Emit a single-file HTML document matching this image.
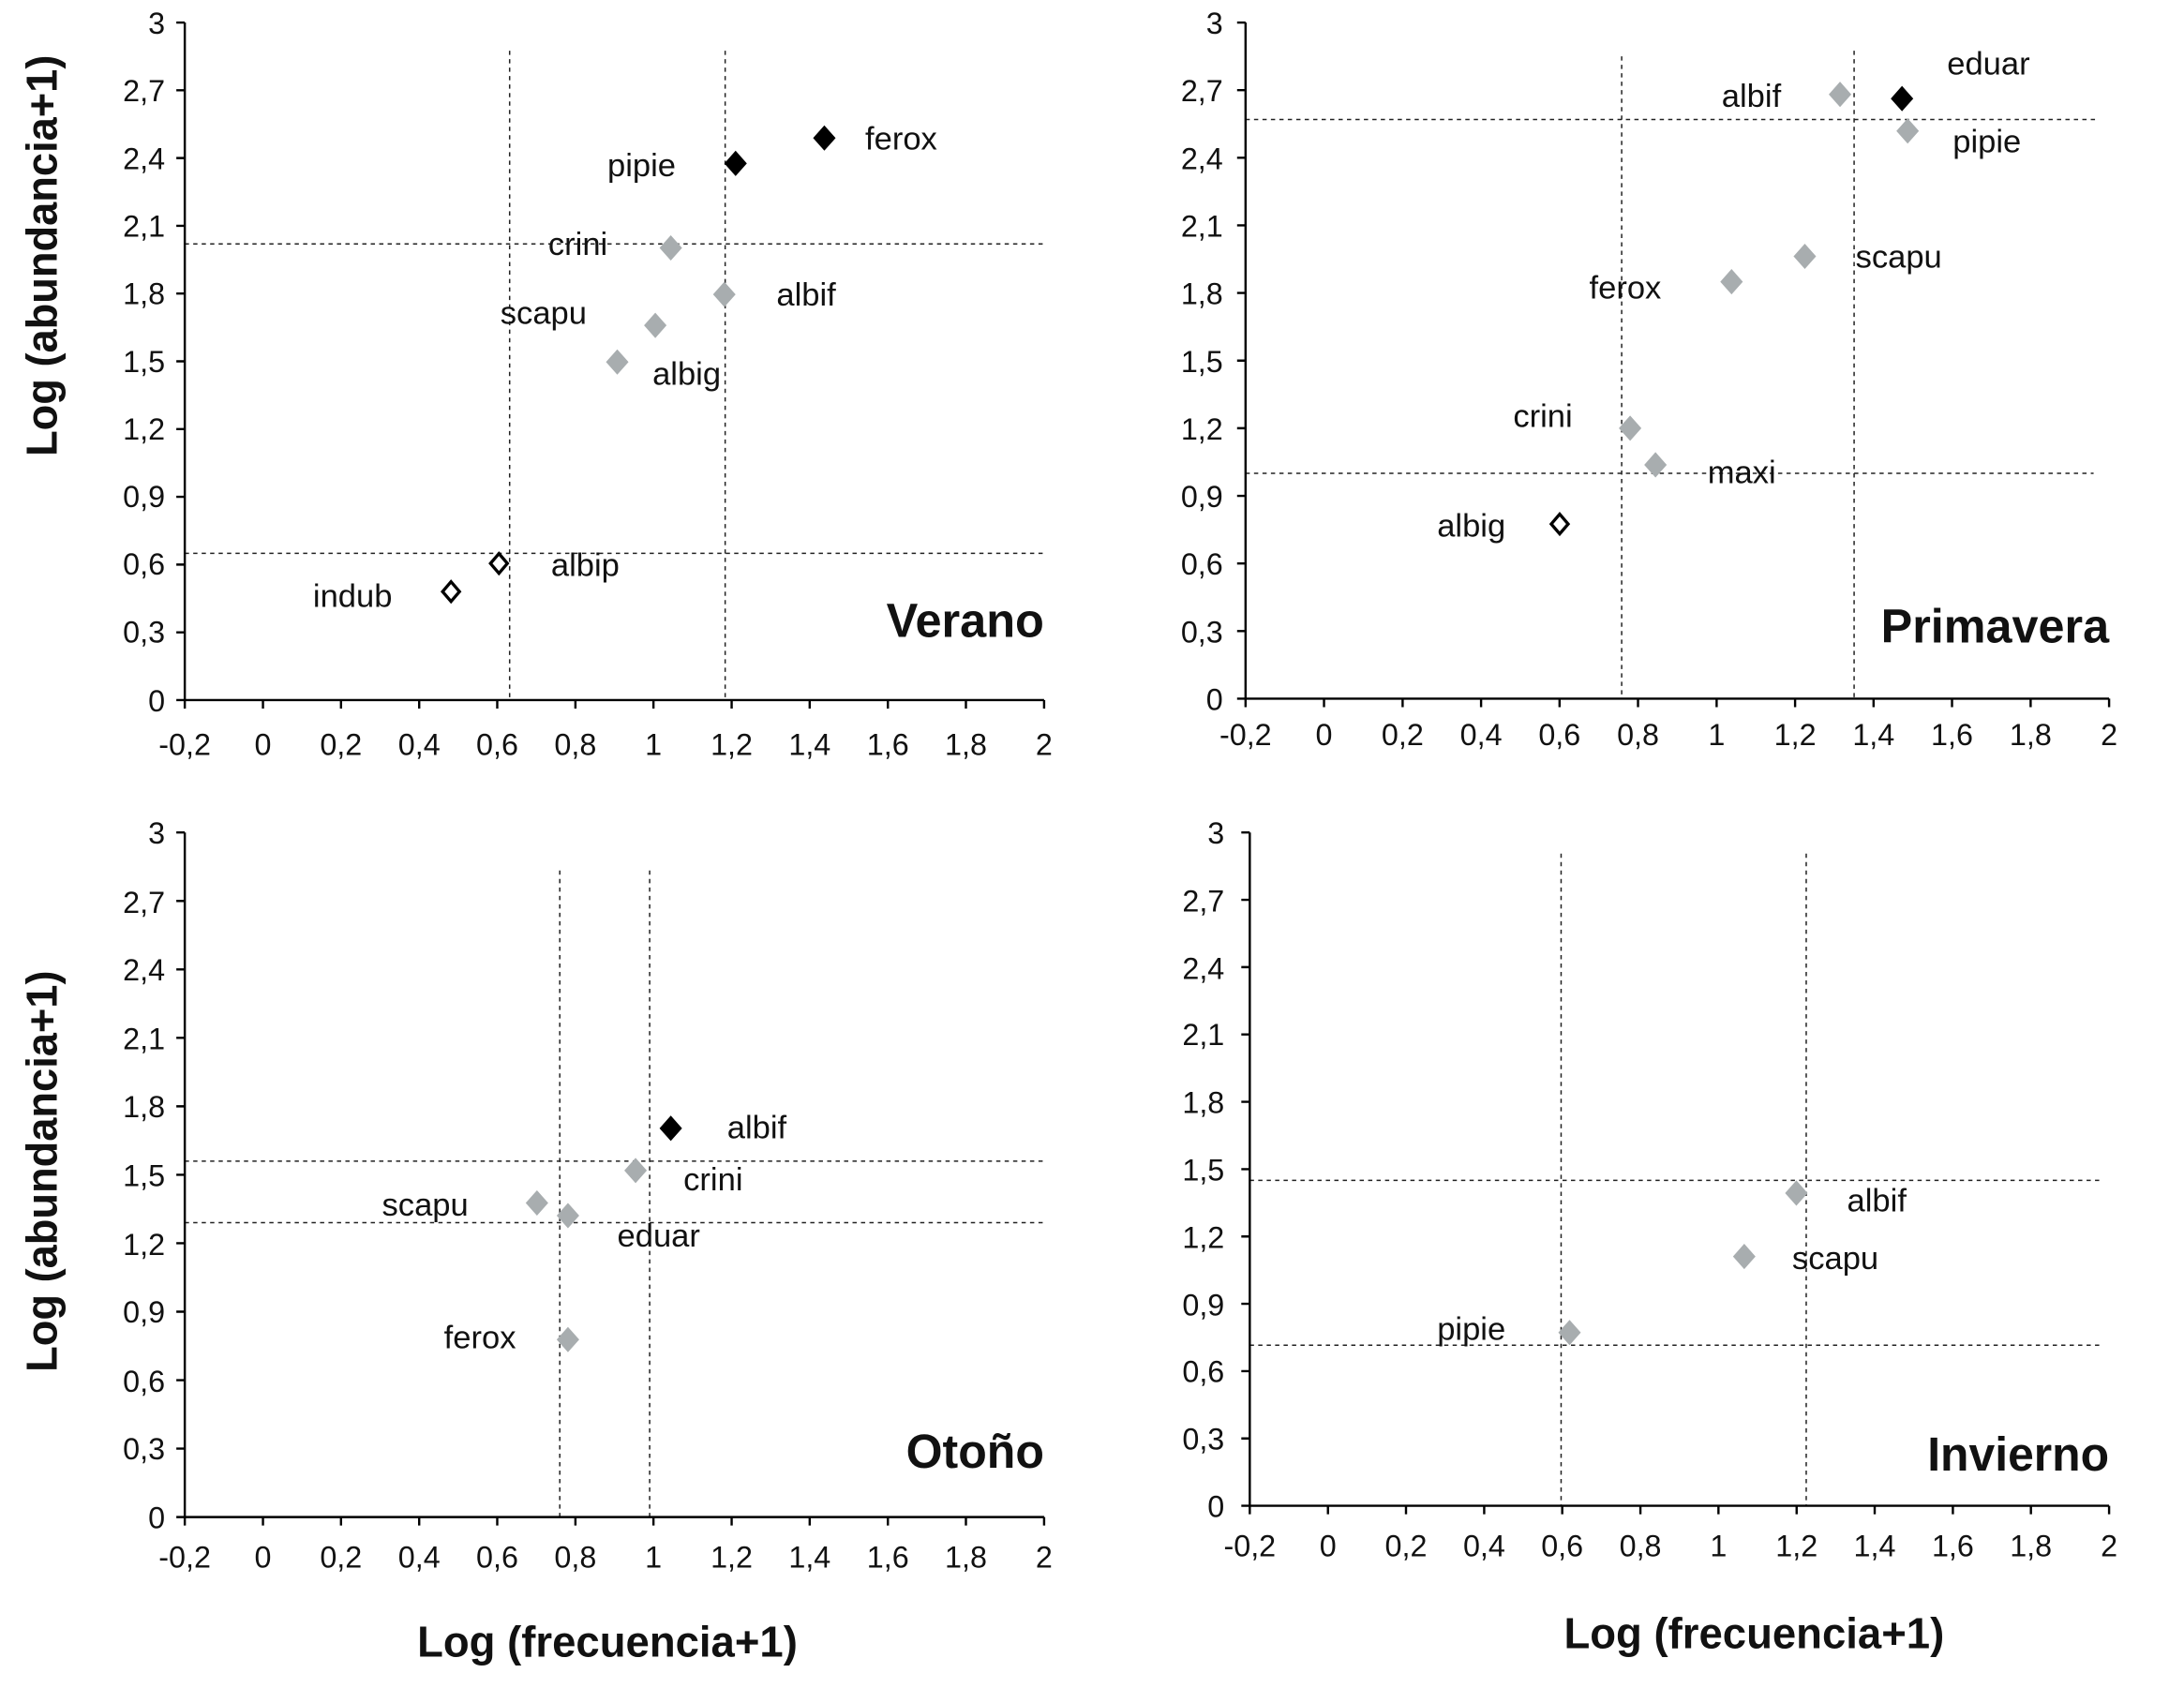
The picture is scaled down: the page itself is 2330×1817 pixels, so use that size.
<!DOCTYPE html>
<html><head><meta charset="utf-8"><style>
html,body{margin:0;padding:0;background:#fff;}
svg{display:block}
text{font-family:"Liberation Sans",sans-serif;fill:#111}
.t{font-size:21.5px}
.l{font-size:23px}
.b{font-weight:bold;font-size:34px}
.a{font-weight:bold;font-size:31px}
.ax{stroke:#000;stroke-width:1.6;fill:none}
.d{stroke:#222;stroke-width:1;stroke-dasharray:3,3;fill:none}
.g{fill:#a8adaf}
.k{fill:#000}
.o{fill:#fff;stroke:#000;stroke-width:2.2}
</style></head><body>
<svg width="2330" height="1817" viewBox="0 0 1550 1209" xmlns="http://www.w3.org/2000/svg">
<defs><path id="dm" d="M0,-9 L8,0 L0,9 L-8,0Z"/><path id="dmo" d="M0,-7 L6,0 L0,7 L-6,0Z"/></defs>

<!-- TL -->
<g>
<line class="d" x1="361.6" y1="36" x2="361.6" y2="497"/>
<line class="d" x1="514.6" y1="36" x2="514.6" y2="497"/>
<line class="d" x1="131" y1="173.2" x2="741" y2="173.2"/>
<line class="d" x1="131" y1="392.8" x2="741" y2="392.8"/>
<path class="ax" d="M131,16V497H741 M125,16H131 M125,64.1H131 M125,112.2H131 M125,160.3H131 M125,208.4H131 M125,256.5H131 M125,304.6H131 M125,352.7H131 M125,400.8H131 M125,448.9H131 M125,497H131 M131,497V503 M186.5,497V503 M241.9,497V503 M297.4,497V503 M352.8,497V503 M408.3,497V503 M463.7,497V503 M519.2,497V503 M574.6,497V503 M630.1,497V503 M685.5,497V503 M741,497V503"/>
<g class="t" text-anchor="end"><text x="117" y="24">3</text><text x="117" y="72">2,7</text><text x="117" y="120">2,4</text><text x="117" y="168">2,1</text><text x="117" y="216">1,8</text><text x="117" y="264">1,5</text><text x="117" y="312">1,2</text><text x="117" y="360">0,9</text><text x="117" y="408">0,6</text><text x="117" y="456">0,3</text><text x="117" y="505">0</text></g>
<g class="t" text-anchor="middle"><text x="131" y="536">-0,2</text><text x="186.5" y="536">0</text><text x="241.9" y="536">0,2</text><text x="297.4" y="536">0,4</text><text x="352.8" y="536">0,6</text><text x="408.3" y="536">0,8</text><text x="463.7" y="536">1</text><text x="519.2" y="536">1,2</text><text x="574.6" y="536">1,4</text><text x="630.1" y="536">1,6</text><text x="685.5" y="536">1,8</text><text x="741" y="536">2</text></g>
<use href="#dm" class="k" x="522" y="116"/><use href="#dm" class="k" x="585" y="98"/>
<use href="#dm" class="g" x="476" y="176"/><use href="#dm" class="g" x="514" y="209"/><use href="#dm" class="g" x="465" y="231"/><use href="#dm" class="g" x="438" y="257"/>
<use href="#dmo" class="o" x="354" y="400"/><use href="#dmo" class="o" x="320" y="420"/>
<g class="l"><text x="614" y="106">ferox</text><text x="431" y="125">pipie</text><text x="389" y="181">crini</text><text x="551" y="217">albif</text><text x="355" y="230">scapu</text><text x="463" y="273">albig</text><text x="391" y="409">albip</text><text x="222" y="431">indub</text></g>
<text class="b" x="629" y="452" textLength="112" lengthAdjust="spacingAndGlyphs">Verano</text>
<text class="a" transform="translate(40,182) rotate(-90)" x="-142" y="0" textLength="285" lengthAdjust="spacingAndGlyphs">Log (abundancia+1)</text>
</g>

<!-- TR -->
<g>
<line class="d" x1="1151" y1="40" x2="1151" y2="496"/>
<line class="d" x1="1316" y1="36" x2="1316" y2="496"/>
<line class="d" x1="884" y1="84.8" x2="1490" y2="84.8"/>
<line class="d" x1="884" y1="336" x2="1486" y2="336"/>
<path class="ax" d="M884,16V496H1497 M878,16H884 M878,64H884 M878,112H884 M878,160H884 M878,208H884 M878,256H884 M878,304H884 M878,352H884 M878,400H884 M878,448H884 M878,496H884 M884,496V502 M939.7,496V502 M995.5,496V502 M1051.2,496V502 M1106.9,496V502 M1162.6,496V502 M1218.4,496V502 M1274.1,496V502 M1329.8,496V502 M1385.5,496V502 M1441.3,496V502 M1497,496V502"/>
<g class="t" text-anchor="end"><text x="868" y="24">3</text><text x="868" y="72">2,7</text><text x="868" y="120">2,4</text><text x="868" y="168">2,1</text><text x="868" y="216">1,8</text><text x="868" y="264">1,5</text><text x="868" y="312">1,2</text><text x="868" y="360">0,9</text><text x="868" y="408">0,6</text><text x="868" y="456">0,3</text><text x="868" y="504">0</text></g>
<g class="t" text-anchor="middle"><text x="884" y="529">-0,2</text><text x="939.7" y="529">0</text><text x="995.5" y="529">0,2</text><text x="1051.2" y="529">0,4</text><text x="1106.9" y="529">0,6</text><text x="1162.6" y="529">0,8</text><text x="1218.4" y="529">1</text><text x="1274.1" y="529">1,2</text><text x="1329.8" y="529">1,4</text><text x="1385.5" y="529">1,6</text><text x="1441.3" y="529">1,8</text><text x="1497" y="529">2</text></g>
<use href="#dm" class="k" x="1350" y="70"/><use href="#dm" class="g" x="1306" y="67"/><use href="#dm" class="g" x="1354" y="93"/>
<use href="#dm" class="g" x="1281" y="182"/><use href="#dm" class="g" x="1229" y="200"/><use href="#dm" class="g" x="1157" y="304"/><use href="#dm" class="g" x="1175" y="330"/>
<use href="#dmo" class="o" x="1107" y="372"/>
<g class="l"><text x="1382" y="53">eduar</text><text x="1222" y="76">albif</text><text x="1386" y="108">pipie</text><text x="1317" y="190">scapu</text><text x="1128" y="212">ferox</text><text x="1074" y="303">crini</text><text x="1212" y="343">maxi</text><text x="1020" y="381">albig</text></g>
<text class="b" x="1335" y="456" textLength="162" lengthAdjust="spacingAndGlyphs">Primavera</text>
</g>

<!-- BL -->
<g>
<line class="d" x1="397.2" y1="618" x2="397.2" y2="1077"/>
<line class="d" x1="461" y1="618" x2="461" y2="1077"/>
<line class="d" x1="131" y1="824.3" x2="741" y2="824.3"/>
<line class="d" x1="131" y1="868" x2="741" y2="868"/>
<path class="ax" d="M131,591V1077H741 M125,591H131 M125,639.6H131 M125,688.2H131 M125,736.8H131 M125,785.4H131 M125,834H131 M125,882.6H131 M125,931.2H131 M125,979.8H131 M125,1028.4H131 M125,1077H131 M131,1077V1083 M186.5,1077V1083 M241.9,1077V1083 M297.4,1077V1083 M352.8,1077V1083 M408.3,1077V1083 M463.7,1077V1083 M519.2,1077V1083 M574.6,1077V1083 M630.1,1077V1083 M685.5,1077V1083 M741,1077V1083"/>
<g class="t" text-anchor="end"><text x="117" y="599">3</text><text x="117" y="648">2,7</text><text x="117" y="696">2,4</text><text x="117" y="745">2,1</text><text x="117" y="793">1,8</text><text x="117" y="842">1,5</text><text x="117" y="891">1,2</text><text x="117" y="939">0,9</text><text x="117" y="988">0,6</text><text x="117" y="1036">0,3</text><text x="117" y="1085">0</text></g>
<g class="t" text-anchor="middle"><text x="131" y="1113">-0,2</text><text x="186.5" y="1113">0</text><text x="241.9" y="1113">0,2</text><text x="297.4" y="1113">0,4</text><text x="352.8" y="1113">0,6</text><text x="408.3" y="1113">0,8</text><text x="463.7" y="1113">1</text><text x="519.2" y="1113">1,2</text><text x="574.6" y="1113">1,4</text><text x="630.1" y="1113">1,6</text><text x="685.5" y="1113">1,8</text><text x="741" y="1113">2</text></g>
<use href="#dm" class="k" x="476" y="801"/><use href="#dm" class="g" x="451" y="831"/><use href="#dm" class="g" x="381" y="854"/><use href="#dm" class="g" x="403" y="863"/><use href="#dm" class="g" x="403" y="951"/>
<g class="l"><text x="516" y="808">albif</text><text x="485" y="845">crini</text><text x="271" y="863">scapu</text><text x="438" y="885">eduar</text><text x="315" y="957">ferox</text></g>
<text class="b" x="643" y="1042" textLength="98" lengthAdjust="spacingAndGlyphs">Otoño</text>
<text class="a" transform="translate(40,832) rotate(-90)" x="-142" y="0" textLength="285" lengthAdjust="spacingAndGlyphs">Log (abundancia+1)</text>
<text class="a" x="296" y="1176" textLength="270" lengthAdjust="spacingAndGlyphs">Log (frecuencia+1)</text>
</g>

<!-- BR -->
<g>
<line class="d" x1="1108" y1="606" x2="1108" y2="1069"/>
<line class="d" x1="1282" y1="606" x2="1282" y2="1069"/>
<line class="d" x1="887" y1="838" x2="1490" y2="838"/>
<line class="d" x1="887" y1="955" x2="1490" y2="955"/>
<path class="ax" d="M887,591V1069H1497 M881,591H887 M881,638.8H887 M881,686.6H887 M881,734.4H887 M881,782.2H887 M881,830H887 M881,877.8H887 M881,925.6H887 M881,973.4H887 M881,1021.2H887 M881,1069H887 M887,1069V1075 M942.5,1069V1075 M997.9,1069V1075 M1053.4,1069V1075 M1108.8,1069V1075 M1164.3,1069V1075 M1219.7,1069V1075 M1275.2,1069V1075 M1330.6,1069V1075 M1386.1,1069V1075 M1441.5,1069V1075 M1497,1069V1075"/>
<g class="t" text-anchor="end"><text x="869" y="599">3</text><text x="869" y="647">2,7</text><text x="869" y="695">2,4</text><text x="869" y="742">2,1</text><text x="869" y="790">1,8</text><text x="869" y="838">1,5</text><text x="869" y="886">1,2</text><text x="869" y="934">0,9</text><text x="869" y="981">0,6</text><text x="869" y="1029">0,3</text><text x="869" y="1077">0</text></g>
<g class="t" text-anchor="middle"><text x="887" y="1105">-0,2</text><text x="942.5" y="1105">0</text><text x="997.9" y="1105">0,2</text><text x="1053.4" y="1105">0,4</text><text x="1108.8" y="1105">0,6</text><text x="1164.3" y="1105">0,8</text><text x="1219.7" y="1105">1</text><text x="1275.2" y="1105">1,2</text><text x="1330.6" y="1105">1,4</text><text x="1386.1" y="1105">1,6</text><text x="1441.5" y="1105">1,8</text><text x="1497" y="1105">2</text></g>
<use href="#dm" class="g" x="1275" y="847"/><use href="#dm" class="g" x="1238" y="892"/><use href="#dm" class="g" x="1114" y="946"/>
<g class="l"><text x="1311" y="860">albif</text><text x="1272" y="901">scapu</text><text x="1020" y="951">pipie</text></g>
<text class="b" x="1368" y="1044" textLength="129" lengthAdjust="spacingAndGlyphs">Invierno</text>
<text class="a" x="1110" y="1170" textLength="270" lengthAdjust="spacingAndGlyphs">Log (frecuencia+1)</text>
</g>
</svg>
</body></html>
